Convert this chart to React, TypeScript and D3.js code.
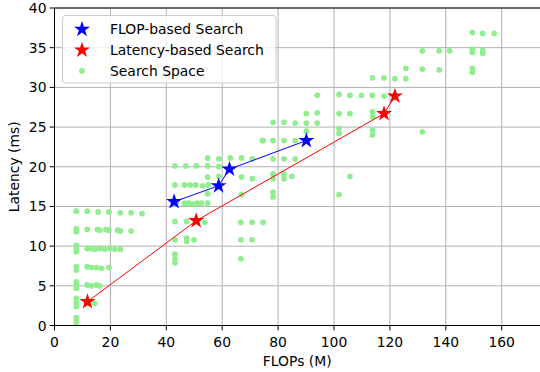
import React, { useEffect, useRef } from 'react';
import * as d3 from 'd3';

// stars found by each search, in order of FLOPs
const flopSearch: [number, number][] = [
  [42.8, 15.6], [58.7, 17.6], [62.6, 19.7], [90.1, 23.3],
];
const latencySearch: [number, number][] = [
  [11.8, 3.0], [50.7, 13.2], [117.9, 26.7], [121.8, 28.9],
];

// [FLOPs (M), latency (ms)] of sampled architectures
const searchSpace: [number, number][] = [
  // small models
  [7.8, 0.4], [7.8, 1.0], [7.8, 2.4], [7.8, 2.9], [7.8, 3.4], [7.8, 4.7], [7.8, 5.1], [7.8, 5.5],
  [7.8, 7.0], [7.8, 7.4], [7.8, 9.3], [7.8, 9.7], [7.8, 10.1], [7.8, 11.8], [7.8, 12.2], [7.8, 14.4],
  [11.7, 14.4], [15.6, 14.3], [19.5, 14.3], [23.5, 14.2], [27.4, 14.2], [31.3, 14.1],
  [11.7, 12.1], [15.4, 12.1], [16.2, 12.0], [18.4, 12.1], [19.4, 12.0], [22.6, 12.0], [23.6, 11.9], [27.4, 11.9],
  [11.7, 9.7], [13.0, 9.7], [14.5, 9.6], [16.2, 9.7], [18.0, 9.6], [19.8, 9.7], [21.6, 9.6], [23.6, 9.6],
  [11.7, 7.4], [13.2, 7.3], [15.0, 7.3], [16.8, 7.2], [19.5, 7.3],
  [11.7, 5.1], [13.2, 5.0], [15.0, 5.1], [16.2, 5.0],
  [11.7, 2.8], [14.4, 2.8],
  // medium models
  [54.8, 21.1], [58.8, 21.0], [62.9, 21.1], [66.9, 21.1], [70.8, 21.0], [74.7, 23.3],
  [43.1, 20.1], [47.0, 20.1], [50.8, 20.1], [54.8, 20.1], [58.8, 20.0],
  [54.8, 18.7], [58.8, 18.8], [66.9, 18.7], [70.8, 18.5],
  [43.1, 17.7], [46.5, 17.7], [48.5, 17.7], [50.5, 17.7], [53.0, 17.6], [55.0, 17.7], [58.8, 17.6],
  [54.8, 16.6], [66.9, 16.5], [78.2, 16.2], [78.2, 16.8], [101.8, 16.5],
  [43.5, 15.4], [46.5, 15.4], [48.0, 15.4], [49.5, 15.3], [51.0, 15.4], [52.5, 15.4], [54.8, 15.4],
  [43.1, 13.1], [47.3, 13.1], [51.0, 13.1], [53.8, 13.0], [66.7, 13.0], [70.7, 13.0], [74.6, 13.0],
  [43.1, 10.8], [47.3, 10.6], [47.3, 11.0], [49.9, 10.8], [66.7, 10.8], [70.7, 10.8],
  [43.1, 7.9], [43.1, 8.4], [43.1, 9.0], [66.7, 8.4],
  // large models
  [74.4, 23.3], [78.2, 23.3], [82.1, 23.3], [86.1, 23.3], [90.1, 23.4],
  [78.2, 21.0], [82.1, 21.0], [86.1, 21.0],
  [78.2, 18.5], [78.2, 19.1], [82.1, 18.5], [82.1, 19.1], [84.9, 18.8], [105.7, 18.8],
  [78.2, 25.6], [82.1, 25.6], [86.1, 25.5], [90.1, 25.5], [94.0, 25.5],
  [90.1, 24.5], [101.8, 24.2], [101.8, 24.8], [113.8, 24.0], [113.8, 24.6], [131.6, 24.4],
  [90.1, 26.7], [94.0, 26.8], [101.8, 26.7], [105.7, 26.7], [113.8, 26.3], [113.8, 26.9],
  [94.0, 29.0], [101.8, 29.1], [105.7, 29.0], [109.8, 29.0], [113.7, 29.0], [117.9, 28.9],
  [113.8, 31.2], [117.9, 31.2], [121.8, 31.1], [125.7, 31.1],
  [125.7, 32.4], [131.6, 32.3], [137.6, 32.2], [149.5, 31.9], [149.5, 32.4],
  [131.6, 34.6], [137.6, 34.6], [141.4, 34.6], [149.5, 34.4], [149.5, 34.8], [153.2, 34.3], [153.2, 34.7],
  [149.5, 36.9], [153.2, 36.8], [157.3, 36.8],
];

const xTicks = [0, 20, 40, 60, 80, 100, 120, 140, 160];
const yTicks = [0, 5, 10, 15, 20, 25, 30, 35, 40];

const legendItems = [
  { label: 'FLOP-based Search', color: '#0000ff', kind: 'star' },
  { label: 'Latency-based Search', color: '#ff0000', kind: 'star' },
  { label: 'Search Space', color: '#90ee90', kind: 'dot' },
];

const W = 540;
const H = 372;
const font = 'DejaVu Sans, sans-serif';

function Chart() {
  const ref = useRef<SVGSVGElement>(null);

  useEffect(() => {
    const svg = d3.select(ref.current);
    svg.selectAll('*').remove();

    const x = d3.scaleLinear().domain([0, 173.7]).range([54.5, 540]);
    const y = d3.scaleLinear().domain([0, 40]).range([325.5, 8]);
    const [x0, x1] = x.range();
    const [y0, y1] = y.range();

    // grid
    const grid = svg.append('g').attr('stroke', '#b0b0b0').attr('stroke-width', 1);
    grid.selectAll('.gx').data(xTicks.slice(1)).enter().append('line')
      .attr('x1', d => x(d)).attr('x2', d => x(d)).attr('y1', y0).attr('y2', y1);
    grid.selectAll('.gy').data(yTicks.slice(1)).enter().append('line')
      .attr('x1', x0).attr('x2', x1 + 2).attr('y1', d => y(d)).attr('y2', d => y(d));

    // search space
    svg.append('g').selectAll('circle').data(searchSpace).enter().append('circle')
      .attr('cx', d => x(d[0])).attr('cy', d => y(d[1])).attr('r', 2.9)
      .attr('fill', '#90ee90');

    const line = d3.line<[number, number]>().x(d => x(d[0])).y(d => y(d[1]));
    const star = d3.symbol().type(d3.symbolStar).size(80);

    const drawSearch = (pts: [number, number][], color: string) => {
      svg.append('path').attr('d', line(pts)).attr('fill', 'none')
        .attr('stroke', color).attr('stroke-width', 1);
      svg.append('g').selectAll('path').data(pts).enter().append('path')
        .attr('d', star()).attr('fill', color)
        .attr('transform', d => 'translate(' + x(d[0]) + ',' + y(d[1]) + ')');
    };
    drawSearch(flopSearch, '#0000ff');
    drawSearch(latencySearch, '#ff0000');

    // spines
    svg.append('path')
      .attr('d', `M${x1 + 2},${y1}H${x0}V${y0}H${x1 + 2}`)
      .attr('fill', 'none').attr('stroke', 'black').attr('stroke-width', 1);

    // x axis ticks
    const xa = svg.append('g').attr('font-family', font).attr('font-size', 13.9);
    xa.selectAll('line').data(xTicks).enter().append('line')
      .attr('x1', d => x(d)).attr('x2', d => x(d)).attr('y1', y0).attr('y2', y0 + 4.9)
      .attr('stroke', 'black');
    xa.selectAll('text').data(xTicks).enter().append('text')
      .attr('x', d => x(d)).attr('y', y0 + 21.5).attr('text-anchor', 'middle')
      .text(d => d);

    const ya = svg.append('g').attr('font-family', font).attr('font-size', 13.9);
    ya.selectAll('line').data(yTicks).enter().append('line')
      .attr('x1', x0 - 4.9).attr('x2', x0).attr('y1', d => y(d)).attr('y2', d => y(d))
      .attr('stroke', 'black');
    ya.selectAll('text').data(yTicks).enter().append('text')
      .attr('x', x0 - 8).attr('y', d => y(d) + 5).attr('text-anchor', 'end')
      .text(d => d);

    svg.append('text').attr('x', (x0 + x1) / 2).attr('y', 366)
      .attr('text-anchor', 'middle').attr('font-family', font).attr('font-size', 13.9)
      .text('FLOPs (M)');
    svg.append('text')
      .attr('transform', `translate(19,${(y0 + y1) / 2}) rotate(-90)`)
      .attr('text-anchor', 'middle').attr('font-family', font).attr('font-size', 13.9)
      .text('Latency (ms)');

    // legend
    const lg = svg.append('g');
    lg.append('rect').attr('x', 62.5).attr('y', 15.5).attr('width', 213.5).attr('height', 67.5)
      .attr('rx', 3).attr('fill', 'white').attr('fill-opacity', 0.8)
      .attr('stroke', '#cccccc').attr('stroke-width', 1);
    legendItems.forEach((it, i) => {
      const ly = 29.3 + i * 20.8;
      if (it.kind === 'star') {
        lg.append('path').attr('d', star()).attr('fill', it.color)
          .attr('transform', `translate(82,${ly})`);
      } else {
        lg.append('circle').attr('cx', 82).attr('cy', ly).attr('r', 2.9).attr('fill', it.color);
      }
      lg.append('text').attr('x', 110).attr('y', ly + 5)
        .attr('font-family', font).attr('font-size', 13.9).text(it.label);
    });
  }, []);

  return <svg ref={ref} width={W} height={H} style={{ display: 'block' }} />;
}

export default function App() {
  return (
    <div style={{ position: 'absolute', left: 0, top: 0 }}>
      <Chart />
    </div>
  );
}
